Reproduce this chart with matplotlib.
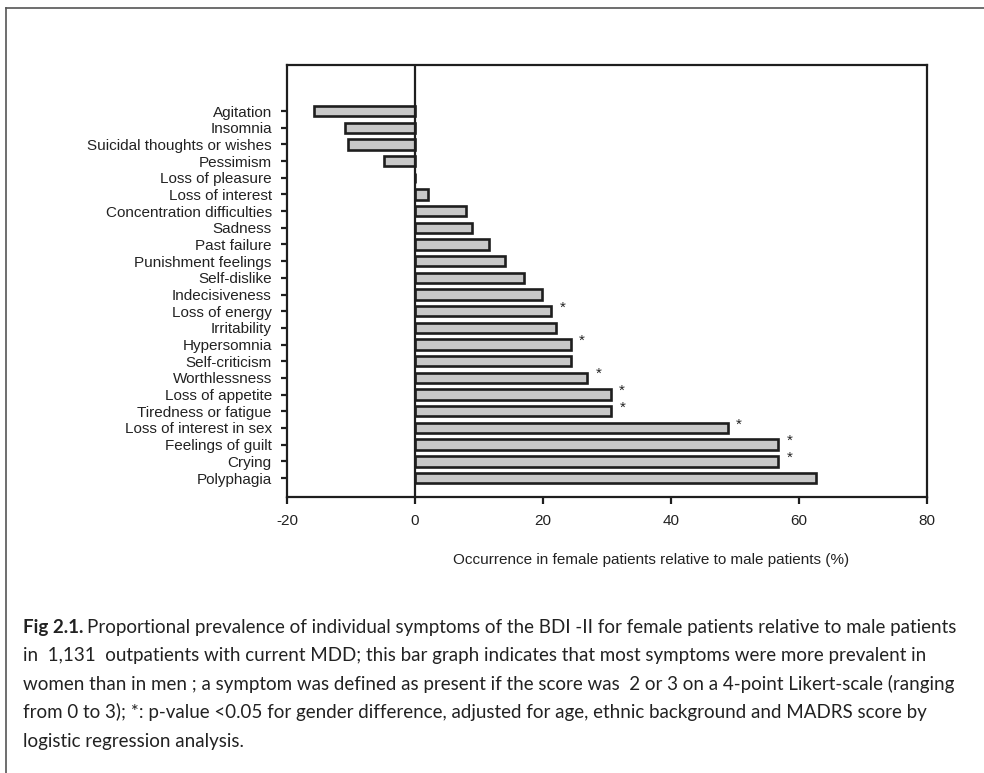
import numpy as np
import matplotlib.pyplot as plt
from matplotlib.lines import Line2D

symptoms = ["Agitation", "Insomnia", "Suicidal thoughts or wishes", "Pessimism",
            "Loss of pleasure", "Loss of interest", "Concentration difficulties",
            "Sadness", "Past failure", "Punishment feelings", "Self-dislike",
            "Indecisiveness", "Loss of energy", "Irritability", "Hypersomnia",
            "Self-criticism", "Worthlessness", "Loss of appetite",
            "Tiredness or fatigue", "Loss of interest in sex",
            "Feelings of guilt", "Crying", "Polyphagia"]
values = [-15.8, -11.0, -10.5, -4.9, 0.0, 2.0, 8.0, 8.9, 11.5, 14.1, 17.1,
          19.8, 21.3, 22.0, 24.3, 24.3, 26.9, 30.6, 30.7, 48.9, 56.8, 56.8, 62.6]
significant = [False, False, False, False, False, False, False, False, False,
               False, False, False, True, False, True, False, True, True,
               True, True, True, True, False]
xticks = [-20, 0, 20, 40, 60, 80]

caption_lines = [
    "Proportional prevalence of individual symptoms of the BDI -II for female patients relative to male patients",
    "in  1,131  outpatients with current MDD; this bar graph indicates that most symptoms were more prevalent in",
    "women than in men ; a symptom was defined as present if the score was  2 or 3 on a 4-point Likert-scale (ranging",
    "from 0 to 3); *: p-value <0.05 for gender difference, adjusted for age, ethnic background and MADRS score by",
    "logistic regression analysis.",
]

plt.rcParams['font.family'] = ['Liberation Sans', 'DejaVu Sans']

fig = plt.figure(figsize=(9.84, 7.73), dpi=100)
ax = fig.add_axes([0.2917, 0.357, 0.942 - 0.2917, 0.9159 - 0.357])

y = np.arange(len(symptoms))
ax.barh(y, values, height=0.62, color="#c8c8c8", edgecolor="#1e1e1e",
        linewidth=1.9, zorder=2)
ax.axvline(0, color="#1e1e1e", linewidth=1.6, zorder=3)

for yi, v, s in zip(y, values, significant):
    if s:
        ax.text(v + 1.3, yi - 0.22, "*", fontsize=11, ha="left", va="center",
                color="#222222")

ax.set_yticks(y)
ax.set_yticklabels(symptoms, fontsize=11, color="#222222")
ax.set_ylim(len(symptoms) - 1 + 1.14, -2.76)
ax.set_xlim(-20, 80)
ax.set_xticks(xticks)
ax.set_xticklabels([str(t) for t in xticks], fontsize=11, color="#222222")
ax.tick_params(axis="y", direction="out", length=4, width=1.6, color="#1e1e1e", pad=7)
ax.tick_params(axis="x", direction="out", length=5, width=1.6, color="#1e1e1e", pad=7)
for sp in ax.spines.values():
    sp.set_linewidth(1.6)
    sp.set_color("#1e1e1e")

fig.text(651 / 984, 1 - 560 / 773,
         "Occurrence in female patients relative to male patients (%)",
         fontsize=11, ha="center", va="center", color="#222222")

# caption
cap_x = 23 / 984
cap_ys = [627, 655, 684, 712, 741]
cap_size = 13.5
for i, (line, yy) in enumerate(zip(caption_lines, cap_ys)):
    if i == 0:
        t = fig.text(cap_x, 1 - yy / 773, "Fig 2.1.", fontsize=cap_size,
                     fontweight="bold", family="Lato", ha="left", va="center",
                     color="#222222")
        fig.canvas.draw()
        bb = t.get_window_extent()
        fig.text(bb.x1 / fig.bbox.width + 4 / 984, 1 - yy / 773, line,
                 fontsize=cap_size, family="Lato", ha="left", va="center",
                 color="#222222")
    else:
        fig.text(cap_x, 1 - yy / 773, line, fontsize=cap_size, family="Lato",
                 ha="left", va="center", color="#222222")

# frame around figure (top and left edges)
fig.add_artist(Line2D([6 / 984, 1.0], [1 - 8 / 773, 1 - 8 / 773],
                      transform=fig.transFigure, color="#555555", linewidth=1.2))
fig.add_artist(Line2D([6 / 984, 6 / 984], [1 - 8 / 773, 0.0],
                      transform=fig.transFigure, color="#555555", linewidth=1.2))

fig.savefig("out.png", dpi=100)
